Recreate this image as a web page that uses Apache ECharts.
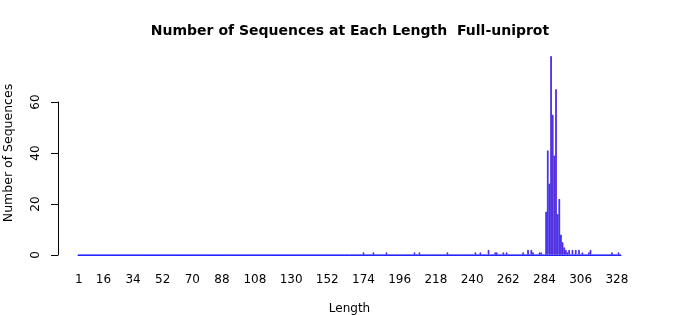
<!DOCTYPE html>
<html>
<head>
<meta charset="utf-8">
<script src="https://cdn.jsdelivr.net/npm/echarts@6/dist/echarts.min.js"></script>
<style>html,body{margin:0;padding:0;background:#fff;}#c{width:700px;height:315px;}</style>
</head>
<body>
<div id="c"></div>
<script>
// Observed sequence lengths and their counts (other lengths have zero count)
const lengths = [174, 180, 188, 205, 208, 225, 242, 245, 250, 254, 255, 259, 261, 271, 274, 276, 277, 281, 282,
  285, 286, 287, 288, 289, 290, 291, 292, 293, 294, 295, 296, 297, 298, 299, 301, 303, 305, 307, 311, 312, 325, 329];
const counts = [1, 1, 1, 1, 1, 1, 1, 1, 2, 1, 1, 1, 1, 1, 2, 2, 1, 1, 1,
  17, 41, 28, 78, 55, 39, 65, 16, 22, 8, 5, 3, 2, 1, 2, 2, 2, 2, 1, 1, 2, 1, 1];
const minLength = 1;
const maxLength = 330;
const tickLabels = ['1', '16', '34', '52', '70', '88', '108', '130', '152', '174', '196', '218', '240', '262', '284', '306', '328'];

const categories = [];
const values = [];
for (let L = minLength; L <= maxLength; L++) {
  categories.push(String(L));
  const i = lengths.indexOf(L);
  values.push(i >= 0 ? counts[i] : 0);
}

const font = 'DejaVu Sans';
const chart = echarts.init(document.getElementById('c'), null, {renderer: 'canvas'});
chart.setOption({
  animation: false,
  backgroundColor: '#ffffff',
  title: {
    text: 'Number of Sequences at Each Length  Full-uniprot',
    left: 'center', top: 19,
    textStyle: {fontFamily: font, fontWeight: 'bold', fontSize: 14, color: '#000'}
  },
  grid: [
    {left: 78, right: 79, top: 51, bottom: 60, containLabel: false, outerBoundsMode: 'none'},
    {left: 78, right: 79, top: 102, bottom: 60, containLabel: false, outerBoundsMode: 'none'}
  ],
  xAxis: [
    {
      type: 'category', gridIndex: 0, data: categories,
      name: 'Length', nameLocation: 'middle', nameGap: 48,
      nameTextStyle: {fontFamily: font, fontSize: 12, color: '#000'},
      axisLine: {show: true, lineStyle: {color: '#2222ff', width: 1}},
      axisTick: {show: false},
      axisLabel: {
        margin: 19, fontFamily: font, fontSize: 12, color: '#000',
        interval: function (idx, val) { return tickLabels.indexOf(val) >= 0; }
      }
    },
    {type: 'category', gridIndex: 1, data: categories, show: false}
  ],
  yAxis: [
    {
      type: 'value', gridIndex: 0, min: 0, max: 80, offset: 20,
      name: 'Number of Sequences', nameLocation: 'middle', nameGap: 43,
      nameTextStyle: {fontFamily: font, fontSize: 12.5, color: '#000', padding: [0, 0, 0, 0]},
      axisLine: {show: false}, axisTick: {show: false}, axisLabel: {show: false},
      splitLine: {show: false}
    },
    {
      type: 'value', gridIndex: 1, min: 0, max: 60, interval: 20, offset: 20,
      axisLine: {show: true, lineStyle: {color: '#000', width: 1}},
      axisTick: {show: true, length: 7, lineStyle: {color: '#000'}},
      axisLabel: {rotate: 90, margin: 16, fontFamily: font, fontSize: 12, color: '#000'},
      splitLine: {show: false}
    }
  ],
  series: [{
    type: 'bar', xAxisIndex: 0, yAxisIndex: 0, data: values,
    barCategoryGap: '0%',
    itemStyle: {color: '#d0004a', borderColor: '#2a2aff', borderWidth: 0.8},
    emphasis: {disabled: true}
  }]
});
</script>
</body>
</html>
